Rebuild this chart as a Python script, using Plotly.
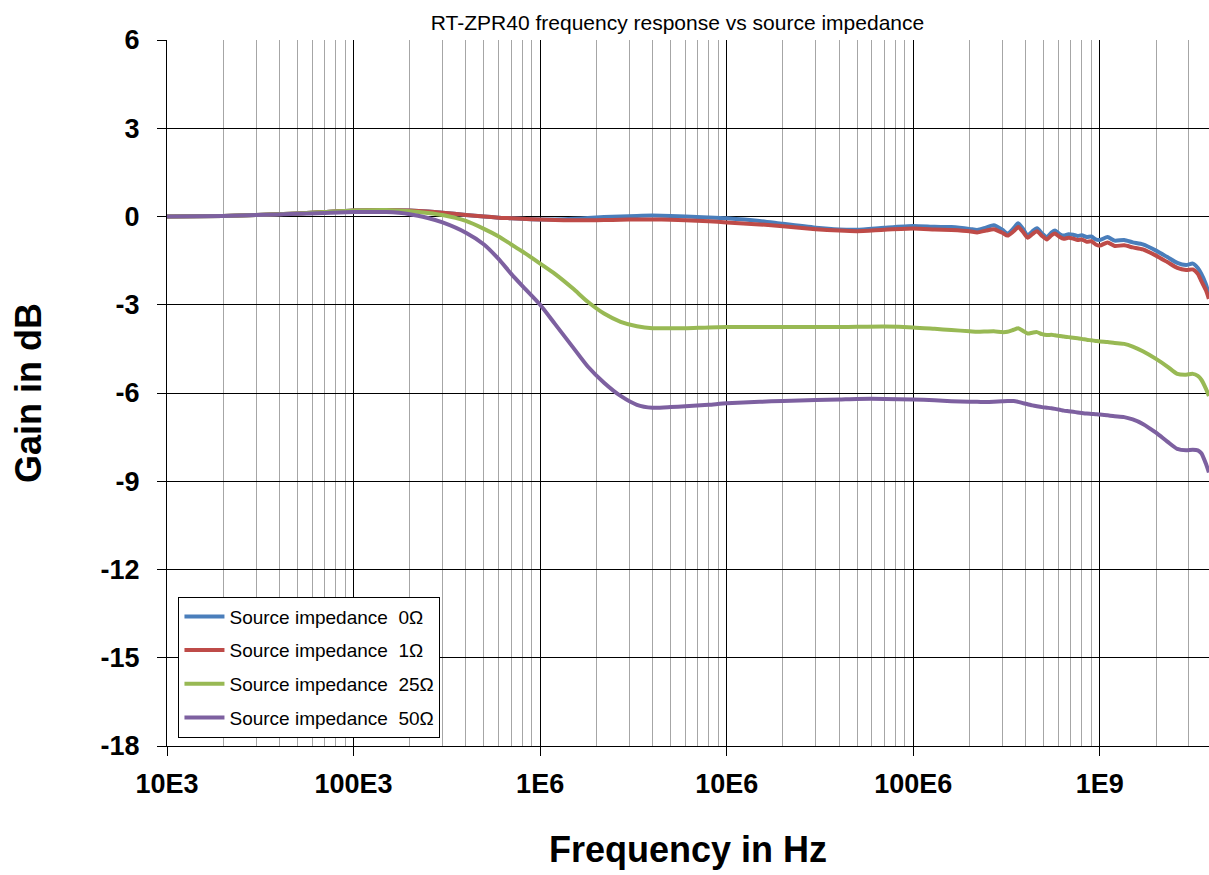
import plotly.graph_objects as go

freq_hz = [1e4, 2e4, 3e4, 5e4, 7e4, 1e5, 1.5e5, 2e5, 2.5e5, 3e5, 4e5, 5e5, 6e5, 7e5, 8e5,
           1e6, 1.2e6, 1.5e6, 1.8e6, 2.2e6, 2.7e6, 3.3e6, 4e6, 5e6, 6e6, 8e6,
           1e7, 1.5e7, 2e7, 3e7, 4e7, 5e7, 7e7,
           1e8, 1.3e8, 1.6e8, 2e8, 2.2e8, 2.45e8, 2.7e8, 3e8, 3.2e8, 3.45e8, 3.65e8, 3.9e8,
           4.1e8, 4.35e8, 4.6e8, 4.9e8, 5.2e8, 5.5e8, 5.75e8, 6.1e8, 6.4e8, 6.8e8, 7.2e8,
           7.6e8, 8e8, 8.5e8, 9e8, 9.5e8,
           1e9, 1.1e9, 1.2e9, 1.35e9, 1.5e9, 1.7e9, 2e9, 2.3e9, 2.6e9, 2.9e9, 3.15e9,
           3.35e9, 3.5e9, 3.7e9, 3.84e9]

gain_0ohm = [0.0, 0.02, 0.05, 0.1, 0.15, 0.2, 0.22, 0.2, 0.17, 0.13, 0.05, 0.0, -0.04, -0.06, -0.08,
             -0.1, -0.1, -0.08, -0.05, -0.02, 0.0, 0.02, 0.03, 0.02, 0.0, -0.03,
             -0.06, -0.15, -0.25, -0.38, -0.44, -0.45, -0.38,
             -0.32, -0.35, -0.36, -0.42, -0.46, -0.38, -0.3, -0.45, -0.58, -0.4, -0.23, -0.45,
             -0.65, -0.5, -0.4, -0.58, -0.7, -0.55, -0.48, -0.6, -0.65, -0.6, -0.62,
             -0.66, -0.64, -0.7, -0.68, -0.78,
             -0.8, -0.7, -0.82, -0.8, -0.88, -0.95, -1.16, -1.38, -1.58, -1.65, -1.6,
             -1.75, -1.95, -2.3, -2.65]

gain_1ohm = [0.0, 0.02, 0.05, 0.1, 0.15, 0.2, 0.22, 0.2, 0.17, 0.13, 0.05, 0.0, -0.04, -0.06, -0.08,
             -0.1, -0.12, -0.13, -0.13, -0.12, -0.11, -0.1, -0.1, -0.11, -0.13, -0.16,
             -0.2, -0.27, -0.33, -0.43, -0.48, -0.5, -0.45,
             -0.41, -0.44, -0.46, -0.5, -0.54, -0.48, -0.43, -0.55, -0.65, -0.5, -0.36, -0.55,
             -0.72, -0.6, -0.5, -0.66, -0.78, -0.64, -0.58, -0.7, -0.76, -0.72, -0.75,
             -0.8, -0.78, -0.86, -0.84, -0.95,
             -0.99, -0.88, -1.0, -0.98, -1.05, -1.12, -1.33, -1.55, -1.75, -1.82, -1.8,
             -1.95, -2.2, -2.5, -2.8]

gain_25ohm = [0.0, 0.02, 0.05, 0.1, 0.15, 0.2, 0.22, 0.18, 0.12, 0.05, -0.15, -0.42, -0.68, -0.95, -1.18,
              -1.6, -1.95, -2.45, -2.9, -3.3, -3.58, -3.73, -3.8, -3.8, -3.8, -3.77,
              -3.76, -3.76, -3.76, -3.76, -3.76, -3.75, -3.74,
              -3.77, -3.82, -3.86, -3.9, -3.92, -3.91, -3.9, -3.93, -3.92, -3.85, -3.8, -3.9,
              -3.98, -3.95, -3.93, -4.0, -4.03, -4.02, -4.04, -4.06, -4.08, -4.1, -4.12,
              -4.14, -4.16, -4.19, -4.21, -4.23,
              -4.25, -4.27, -4.3, -4.33, -4.42, -4.58, -4.84, -5.1, -5.35, -5.38, -5.35,
              -5.42, -5.55, -5.85, -6.1]

gain_50ohm = [0.0, 0.02, 0.05, 0.09, 0.12, 0.15, 0.15, 0.08, -0.05, -0.2, -0.55, -0.95, -1.45, -1.95, -2.35,
              -3.0, -3.65, -4.45, -5.1, -5.65, -6.1, -6.4, -6.5, -6.48, -6.45, -6.4,
              -6.35, -6.3, -6.27, -6.24, -6.22, -6.2, -6.2,
              -6.22, -6.25, -6.28, -6.3, -6.3, -6.31, -6.3, -6.28, -6.27, -6.27, -6.3, -6.35,
              -6.38, -6.42, -6.45, -6.48, -6.5, -6.52, -6.54, -6.57, -6.6, -6.62, -6.64,
              -6.66, -6.68, -6.7, -6.71, -6.72,
              -6.73, -6.76, -6.79, -6.82, -6.9, -7.05, -7.35, -7.65, -7.9, -7.95, -7.93,
              -7.95, -8.05, -8.4, -8.7]

series_names = ["Source impedance\u00a0 0Ω", "Source impedance\u00a0 1Ω",
                "Source impedance\u00a0 25Ω", "Source impedance\u00a0 50Ω"]
series_colors = ["#4A7EBB", "#BE4B48", "#98B954", "#7D60A0"]

x_major = [1e4, 1e5, 1e6, 1e7, 1e8, 1e9]
x_labels = ["10E3", "100E3", "1E6", "10E6", "100E6", "1E9"]
y_ticks = [6, 3, 0, -3, -6, -9, -12, -15, -18]
y_labels = ["6", "3", "0", "-3", "-6", "-9", "-12", "-15", "-18"]

x_minor = [m * d for d in [1e4, 1e5, 1e6, 1e7, 1e8, 1e9] for m in range(2, 10)]

FONT = "Liberation Sans, Arial, sans-serif"

fig = go.Figure()
for i, (name, vals, col) in enumerate(zip(series_names,
                                          [gain_0ohm, gain_1ohm, gain_25ohm, gain_50ohm],
                                          series_colors)):
    fig.add_trace(go.Scatter(x=freq_hz, y=vals, mode="lines", name=name,
                             legendgroup=f"g{i}",
                             line=dict(color=col, width=4, shape="spline", smoothing=0.6)))

fig.update_layout(
    width=1209, height=875,
    margin=dict(l=167, r=0, t=40, b=129),
    paper_bgcolor="white", plot_bgcolor="white",
    title=dict(text="RT-ZPR40 frequency response vs source impedance",
               x=677.5 / 1209, xanchor="center", y=1 - 23 / 875, yanchor="middle",
               font=dict(family=FONT, size=21, color="black")),
    showlegend=True,
    legend=dict(x=0.011, y=0.012, xanchor="left", yanchor="bottom",
                bgcolor="white", bordercolor="black", borderwidth=1,
                font=dict(family=FONT, size=19, color="black"),
                traceorder="grouped", tracegroupgap=6, itemwidth=40),
    xaxis=dict(type="log", range=[4, 9.585],
               tickvals=x_major, ticktext=x_labels,
               showgrid=True, gridcolor="black", gridwidth=1,
               ticks="outside", ticklen=9, tickcolor="black",
               ticklabelstandoff=5,
               showline=True, linecolor="black", linewidth=1,
               tickfont=dict(family=FONT, size=27, color="black", weight="bold"),
               minor=dict(tickvals=x_minor, showgrid=True, gridcolor="#A6A6A6", gridwidth=1, ticks=""),
               title=dict(text="Frequency in Hz", standoff=38,
                          font=dict(family=FONT, size=36, color="black", weight="bold")),
               zeroline=False),
    yaxis=dict(range=[-18, 6], tickvals=y_ticks, ticktext=y_labels,
               showgrid=True, gridcolor="black", gridwidth=1,
               ticks="outside", ticklen=9, tickcolor="black",
               ticklabelstandoff=12,
               showline=True, linecolor="black", linewidth=1,
               tickfont=dict(family=FONT, size=27, color="black", weight="bold"),
               title=dict(text="Gain in dB", standoff=47,
                          font=dict(family=FONT, size=36, color="black", weight="bold")),
               zeroline=False),
)

fig.write_html("out.html", config={"displayModeBar": False},
               post_script="document.body.style.margin='0';")
